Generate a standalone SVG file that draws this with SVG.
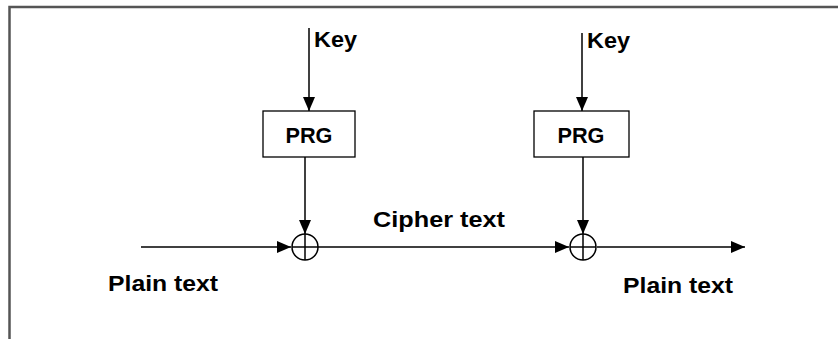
<svg xmlns="http://www.w3.org/2000/svg" width="838" height="339" viewBox="0 0 838 339">
<style>
.ln{stroke:#000;stroke-width:1.5;fill:none}
.bx{stroke:#000;stroke-width:1.3;fill:#fff}
.t{font-family:"Liberation Sans",Arial,sans-serif;font-weight:bold;font-size:22px;fill:#000}
</style>
<defs>
<marker id="ah" markerWidth="14" markerHeight="12" refX="14" refY="6" orient="auto" markerUnits="userSpaceOnUse">
<path d="M0,0 L14,6 L0,12 Z" fill="#000"/>
</marker>
</defs>
<rect width="838" height="339" fill="#fff"/>
<path d="M9.5,339 L9.5,7 L838,7" fill="none" stroke="#555" stroke-width="2.5"/>
<g id="connectors">
<line class="ln" x1="309" y1="28" x2="309" y2="111" marker-end="url(#ah)"/>
<line class="ln" x1="305" y1="157" x2="305" y2="234" marker-end="url(#ah)"/>
<line class="ln" x1="582" y1="33" x2="582" y2="111" marker-end="url(#ah)"/>
<line class="ln" x1="583" y1="157" x2="583" y2="234" marker-end="url(#ah)"/>
<line class="ln" x1="141" y1="247" x2="291" y2="247" marker-end="url(#ah)"/>
<line class="ln" x1="318" y1="247" x2="569" y2="247" marker-end="url(#ah)"/>
<line class="ln" x1="597" y1="247" x2="745" y2="247" marker-end="url(#ah)"/>
</g>
<g id="key1"><text class="t" x="314" y="47" textLength="43" lengthAdjust="spacingAndGlyphs">Key</text></g>
<g id="key2"><text class="t" x="587" y="48" textLength="43" lengthAdjust="spacingAndGlyphs">Key</text></g>
<g id="prg1">
<rect class="bx" x="263" y="111" width="92" height="46"/>
<text class="t" x="309" y="143" text-anchor="middle" textLength="47" lengthAdjust="spacingAndGlyphs">PRG</text>
</g>
<g id="prg2">
<rect class="bx" x="534" y="111" width="95" height="46"/>
<text class="t" x="581" y="143" text-anchor="middle" textLength="47" lengthAdjust="spacingAndGlyphs">PRG</text>
</g>
<g id="xor1">
<circle class="ln" cx="305" cy="247" r="13" fill="#fff"/>
<line class="ln" x1="292" y1="247" x2="318" y2="247"/>
<line class="ln" x1="305" y1="234" x2="305" y2="260"/>
</g>
<g id="xor2">
<circle class="ln" cx="583" cy="247" r="13" fill="#fff"/>
<line class="ln" x1="570" y1="247" x2="596" y2="247"/>
<line class="ln" x1="583" y1="234" x2="583" y2="260"/>
</g>
<g id="lbl-plain1"><text class="t" x="108" y="291" textLength="110" lengthAdjust="spacingAndGlyphs">Plain text</text></g>
<g id="lbl-cipher"><text class="t" x="373" y="227" textLength="132" lengthAdjust="spacingAndGlyphs">Cipher text</text></g>
<g id="lbl-plain2"><text class="t" x="623" y="293" textLength="110" lengthAdjust="spacingAndGlyphs">Plain text</text></g>
</svg>
